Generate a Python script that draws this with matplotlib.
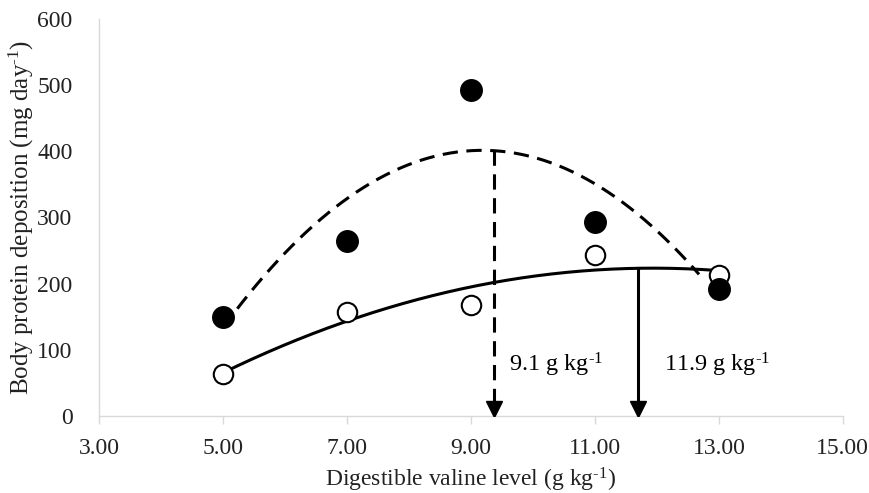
import numpy as np
import matplotlib
matplotlib.use("Agg")
import matplotlib.pyplot as plt

# Data
valine = [5, 7, 9, 11, 13]
filled_bpd = [150, 265, 492, 293, 192]
open_bpd = [63, 157, 168, 243, 213]
xticks = [3, 5, 7, 9, 11, 13, 15]
yticks = [0, 100, 200, 300, 400, 500, 600]
label_dashed = r"9.1 g kg$^{\text{-}1}$"
label_solid = r"11.9 g kg$^{\text{-}1}$"

plt.rcParams['font.family'] = ['Liberation Serif', 'DejaVu Serif']
plt.rcParams['mathtext.fontset'] = 'custom'
plt.rcParams['mathtext.rm'] = 'Liberation Serif'
plt.rcParams['mathtext.it'] = 'Liberation Serif:italic'

fig = plt.figure(figsize=(8.7, 4.93), dpi=100)
ax = fig.add_axes([0.1138, 0.1562, 0.855, 0.8053])

# quadratic trend lines
cf = np.polyfit(valine, filled_bpd, 2)
co = np.polyfit(valine, open_bpd, 2)
xf = np.linspace(5, 12.68, 200)
xo = np.linspace(5, 13, 200)
dash = (0, (5, 2.8))
ax.plot(xf, np.polyval(cf, xf), color='black', lw=2.2, ls=dash, zorder=2)
ax.plot(xo, np.polyval(co, xo), color='black', lw=2.2, zorder=2)

# points
ax.plot(valine, open_bpd, 'o', ms=14, mfc='white', mec='black', mew=1.5, zorder=3)
ax.plot(valine, filled_bpd, 'o', ms=15.5, mfc='black', mec='black', zorder=4)

# optimum arrows
xd = 9.37
yd_top = np.polyval(cf, -cf[1] / (2 * cf[0]))
ax.plot([xd, xd], [yd_top, 18], color='black', lw=2.2, ls=dash, zorder=2)
ax.plot([xd], [11], marker='v', ms=11, color='black', zorder=3)

xs = 11.69
ys_top = np.polyval(co, -co[1] / (2 * co[0]))
ax.plot([xs, xs], [ys_top, 18], color='black', lw=2.2, zorder=2)
ax.plot([xs], [11], marker='v', ms=11, color='black', zorder=3)

ax.text(9.62, 77, label_dashed, fontsize=17.5, va='center', ha='left')
ax.text(12.12, 77, label_solid, fontsize=17.5, va='center', ha='left')

ax.set_xlim(3, 15)
ax.set_ylim(0, 600)
ax.set_xticks(xticks)
ax.set_xticklabels([f"{t:.2f}" for t in xticks])
ax.set_yticks(yticks)
for s in ['top', 'right']:
    ax.spines[s].set_visible(False)
for s in ['left', 'bottom']:
    ax.spines[s].set_color('#d9d9d9')
    ax.spines[s].set_linewidth(1.0)
ax.tick_params(axis='x', colors='#d9d9d9', length=6, width=1.0, labelcolor='#222222', labelsize=17, pad=10)
ax.tick_params(axis='y', length=0, labelcolor='#222222', labelsize=17, pad=19)

ax.set_xlabel(r"Digestible valine level (g kg$^{\text{-}1}$)", fontsize=17, color='#222222', labelpad=5)
ax.set_ylabel(r"Body protein deposition (mg day$^{\text{-}1}$)", fontsize=18, color='#222222')
ax.yaxis.set_label_coords(-0.085, 0.5)

fig.savefig("out.png", dpi=100)
